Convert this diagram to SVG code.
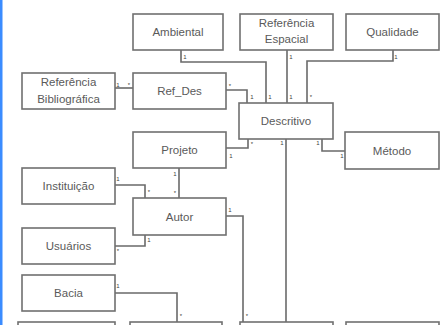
<svg xmlns="http://www.w3.org/2000/svg" width="443" height="325" viewBox="0 0 443 325">
<style>
.box{fill:#fff;stroke:#707070;stroke-width:1.6}
.t{font-family:"Liberation Sans",Arial,sans-serif;font-size:11.5px;fill:#5a5a5a;text-anchor:middle}
.c{fill:none;stroke:#6a6a6a;stroke-width:1.6}
.m{font-family:"Liberation Sans",Arial,sans-serif;font-size:6px;fill:#404040;text-anchor:middle}
</style>
<rect x="0" y="0" width="443" height="325" fill="#fff"/>
<rect x="0" y="0" width="2.5" height="325" fill="#3b8cff"/>
<g id="connectors">
<polyline class="c" points="181,50 181,62 266,62 266,103"/>
<polyline class="c" points="287,50 287,103"/>
<polyline class="c" points="393,50 393,61 307,61 307,103"/>
<polyline class="c" points="226,90 247,90 247,103"/>
<polyline class="c" points="115,88 133,88"/>
<polyline class="c" points="226,148 248,148 248,139"/>
<polyline class="c" points="286,139 286,322"/>
<polyline class="c" points="322,139 322,151 345,151"/>
<polyline class="c" points="179,168 179,198"/>
<polyline class="c" points="115,185 145,185 145,198"/>
<polyline class="c" points="145,235 145,246 115,246"/>
<polyline class="c" points="226,216 243,216 243,322"/>
<polyline class="c" points="115,293 177,293 177,322"/>
<text class="m" x="185" y="59">1</text>
<text class="m" x="270" y="99">1</text>
<text class="m" x="291" y="59">1</text>
<text class="m" x="291" y="99">1</text>
<text class="m" x="396" y="59">1</text>
<text class="m" x="311" y="99">*</text>
<text class="m" x="230" y="88">*</text>
<text class="m" x="252" y="99">1</text>
<text class="m" x="118" y="87">1</text>
<text class="m" x="129" y="87">*</text>
<text class="m" x="231" y="158">1</text>
<text class="m" x="252" y="146">*</text>
<text class="m" x="282" y="145">1</text>
<text class="m" x="318" y="145">1</text>
<text class="m" x="342" y="158">1</text>
<text class="m" x="175" y="176">1</text>
<text class="m" x="175" y="195">*</text>
<text class="m" x="118" y="181">1</text>
<text class="m" x="149" y="194">*</text>
<text class="m" x="149" y="242">1</text>
<text class="m" x="118" y="253">*</text>
<text class="m" x="230" y="212">1</text>
<text class="m" x="247" y="318">*</text>
<text class="m" x="118" y="288">1</text>
<text class="m" x="181" y="318">*</text>
</g>
<g id="ambiental"><rect class="box" x="133" y="14" width="90" height="36"/><text class="t" x="178" y="36">Ambiental</text></g>
<g id="ref-espacial"><rect class="box" x="240" y="14" width="93" height="36"/><text class="t" x="286.5" y="27">Referência</text><text class="t" x="286.5" y="43">Espacial</text></g>
<g id="qualidade"><rect class="box" x="346" y="14" width="93" height="36"/><text class="t" x="392.5" y="36">Qualidade</text></g>
<g id="ref-bib"><rect class="box" x="22" y="73" width="93" height="36"/><text class="t" x="68.5" y="86">Referência</text><text class="t" x="68.5" y="103">Bibliográfica</text></g>
<g id="ref-des"><rect class="box" x="133" y="73" width="93" height="36"/><text class="t" x="179.5" y="95">Ref_Des</text></g>
<g id="descritivo"><rect class="box" x="239" y="103" width="94" height="36"/><text class="t" x="286" y="125">Descritivo</text></g>
<g id="projeto"><rect class="box" x="133" y="132" width="93" height="36"/><text class="t" x="179.5" y="154">Projeto</text></g>
<g id="metodo"><rect class="box" x="345" y="132" width="94" height="37"/><text class="t" x="392" y="155">Método</text></g>
<g id="instituicao"><rect class="box" x="22" y="168" width="93" height="36"/><text class="t" x="68.5" y="190">Instituição</text></g>
<g id="autor"><rect class="box" x="133" y="198" width="93" height="37"/><text class="t" x="179.5" y="221">Autor</text></g>
<g id="usuarios"><rect class="box" x="22" y="228" width="93" height="36"/><text class="t" x="68.5" y="250">Usuários</text></g>
<g id="bacia"><rect class="box" x="22" y="275" width="93" height="36"/><text class="t" x="68.5" y="297">Bacia</text></g>
<g id="bottom1"><rect class="box" x="18" y="322" width="97" height="20"/></g>
<g id="bottom2"><rect class="box" x="130" y="322" width="92" height="20"/></g>
<g id="bottom3"><rect class="box" x="240" y="322" width="93" height="20"/></g>
<g id="bottom4"><rect class="box" x="346" y="322" width="93" height="20"/></g>
</svg>
